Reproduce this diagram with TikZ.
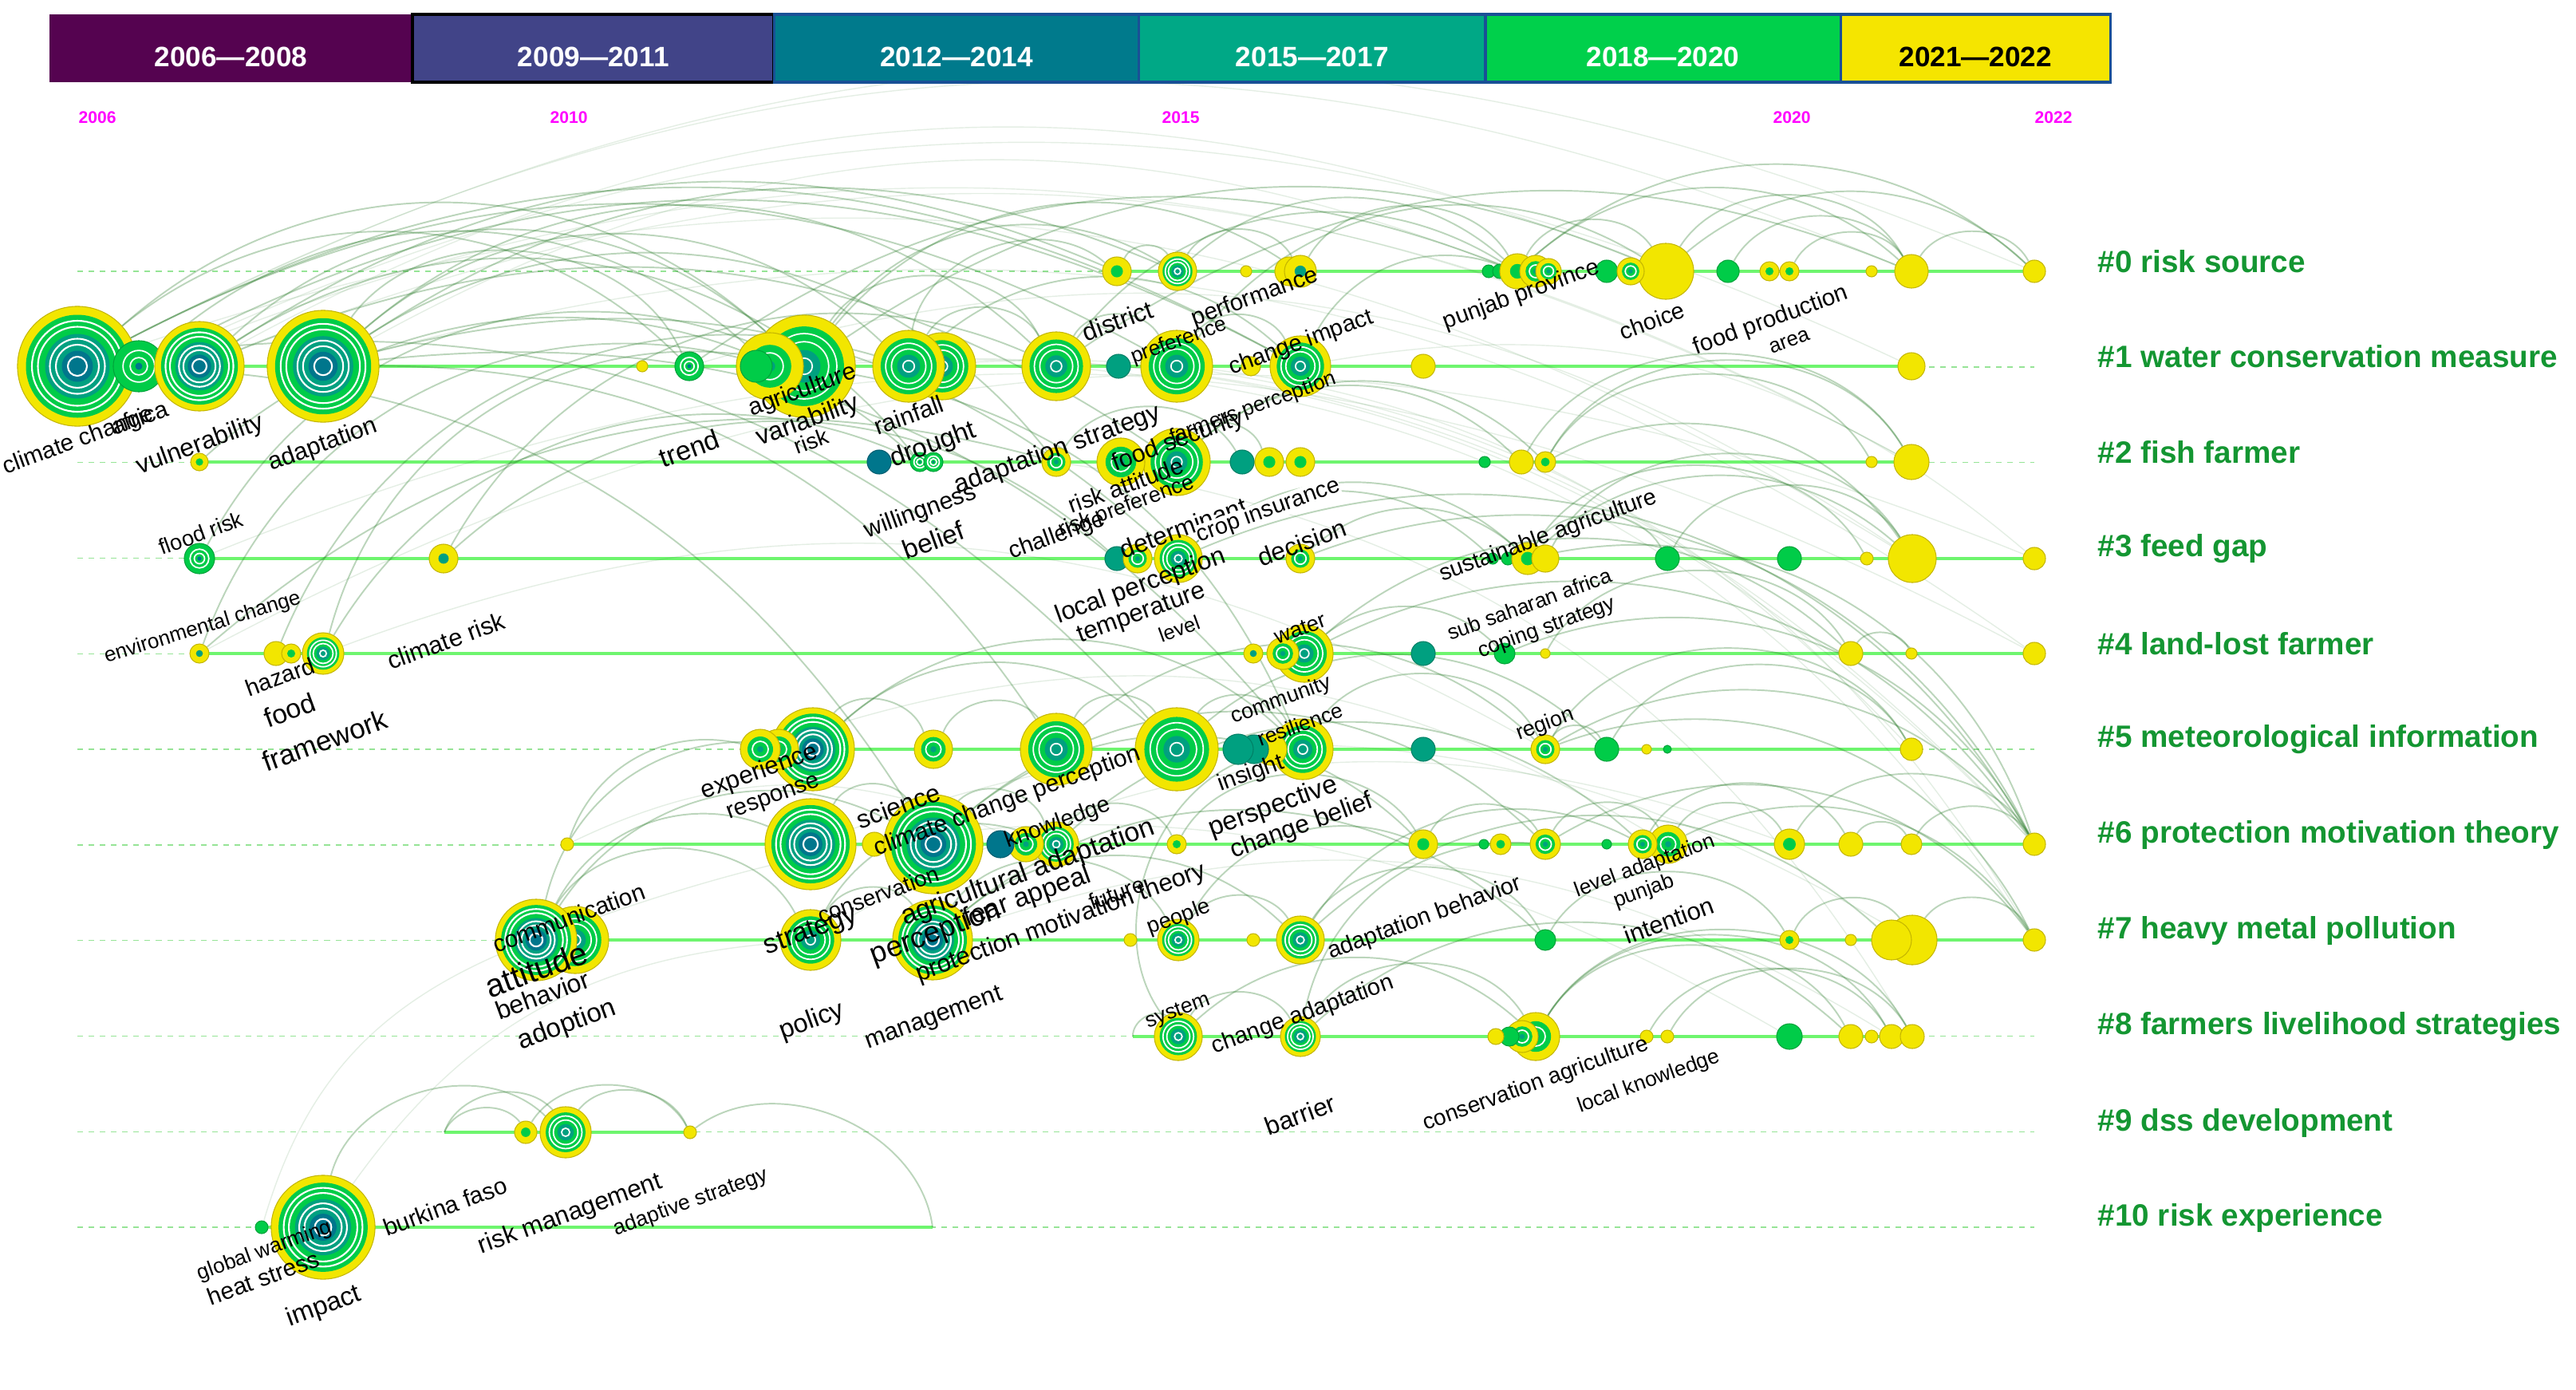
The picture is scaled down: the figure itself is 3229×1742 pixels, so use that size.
\documentclass[tikz,border=0pt]{standalone}
\usepackage{fontspec}
\setmainfont{Liberation Sans}
\usetikzlibrary{positioning}
\pgfdeclarelayer{bg}
\pgfsetlayers{bg,main}

\definecolor{kwyel}{RGB}{242,230,0}
\definecolor{kwedge}{RGB}{196,182,0}
\definecolor{kwgrn}{RGB}{0,204,72}
\definecolor{kwtea}{RGB}{0,160,128}
\definecolor{kwblu}{RGB}{0,118,140}
\definecolor{rowgrn}{RGB}{110,245,110}
\definecolor{dashgrn}{RGB}{150,228,150}
\definecolor{arcgrn}{RGB}{45,125,45}
\definecolor{clgrn}{RGB}{20,150,50}
\definecolor{yrmag}{RGB}{255,0,255}
\definecolor{barblu}{RGB}{25,80,150}
\definecolor{pA}{RGB}{85,3,80}
\definecolor{pB}{RGB}{65,68,136}
\definecolor{pC}{RGB}{0,122,140}
\definecolor{pD}{RGB}{0,168,134}
\definecolor{pE}{RGB}{0,208,75}
\definecolor{pF}{RGB}{245,229,0}

\tikzset{
  kw/.style={circle, inner sep=0pt, minimum size=#1*0.02cm, fill=kwyel, draw=kwedge, line width=0.3pt},
  kwY/.style={kw=#1},
  kwG/.style={kw=#1, fill=kwgrn, draw=kwgrn!80!black},
  kwT/.style={kw=#1, fill=kwtea, draw=kwtea!80!black},
  kwTb/.style={kw=#1, fill=kwblu, draw=kwblu!80!black},
  kwD/.style={kw=#1, path picture={
      \fill[kwgrn] (path picture bounding box.center) circle [radius=0.42*#1*0.01cm];}},
  kwDt/.style={kw=#1, path picture={
      \fill[kwtea] (path picture bounding box.center) circle [radius=0.36*#1*0.01cm];}},
  kwC/.style={kw=#1, path picture={
      \fill[kwgrn] (path picture bounding box.center) circle [radius=0.64*#1*0.01cm];
      \draw[white, line width=0.5pt] (path picture bounding box.center) circle [radius=0.40*#1*0.01cm];
      \fill[kwtea] (path picture bounding box.center) circle [radius=0.16*#1*0.01cm];}},
  kwB/.style={kw=#1, path picture={
      \fill[kwgrn] (path picture bounding box.center) circle [radius=0.78*#1*0.01cm];
      \fill[kwtea] (path picture bounding box.center) circle [radius=0.32*#1*0.01cm];
      \foreach \f in {0.64,0.48,0.16}
        \draw[white, line width=0.5pt] (path picture bounding box.center) circle [radius=\f*#1*0.01cm];}},
  kwA/.style={kw=#1, path picture={
      \fill[kwgrn] (path picture bounding box.center) circle [radius=0.86*#1*0.01cm];
      \fill[kwtea] (path picture bounding box.center) circle [radius=0.54*#1*0.01cm];
      \fill[kwblu] (path picture bounding box.center) circle [radius=0.26*#1*0.01cm];
      \foreach \f in {0.76,0.66,0.46,0.36,0.16}
        \draw[white, line width=0.6pt] (path picture bounding box.center) circle [radius=\f*#1*0.01cm];}},
  kwGr/.style={kw=#1, fill=kwgrn, draw=kwgrn!80!black, path picture={
      \foreach \f in {0.62,0.34}
        \draw[white, line width=0.5pt] (path picture bounding box.center) circle [radius=\f*#1*0.01cm];
      \fill[kwblu] (path picture bounding box.center) circle [radius=0.14*#1*0.01cm];}},
  rowln/.style={draw=rowgrn, line width=1.1pt},
  dashln/.style={draw=dashgrn, line width=0.4pt, dash pattern=on 2pt off 2pt},
  lnk/.style={draw=arcgrn, draw opacity=0.32, line width=0.55pt},
  lnkf/.style={draw=arcgrn, draw opacity=0.13, line width=0.4pt},
  lbl/.style={rotate=20, inner sep=0pt, font=\fontsize{#1}{#1}\selectfont},
  lbl/.default=8.5,
  clab/.style={anchor=west, text=clgrn, inner sep=0pt, font=\fontsize{11}{11}\selectfont\bfseries},
  yrbox/.style={minimum height=0.85cm, inner sep=0pt, outer sep=0pt, text height=12.9pt, text depth=0pt,
    text=white, font=\fontsize{10}{10}\selectfont\bfseries},
  yrlbl/.style={anchor=west, inner sep=0pt, text=yrmag, font=\fontsize{6}{6}\selectfont\bfseries}
}

\begin{document}
\begin{tikzpicture}[x=0.01cm, y=-0.01cm]
\useasboundingbox (0,0) rectangle (3229,1742);

% period bar
\node[yrbox, fill=pA, minimum width=4.55cm] (p1) at (289.5,60.5) {2006—2008};
\node[yrbox, fill=pB, draw=black, line width=1.2pt, minimum width=4.53cm, right=0pt of p1] (p2) {2009—2011};
\node[yrbox, fill=pC, draw=barblu, line width=0.9pt, minimum width=4.57cm, right=0pt of p2] (p3) {2012—2014};
\node[yrbox, fill=pD, draw=barblu, line width=0.9pt, minimum width=4.34cm, right=0pt of p3] (p4) {2015—2017};
\node[yrbox, fill=pE, draw=barblu, line width=0.9pt, minimum width=4.45cm, right=0pt of p4] (p5) {2018—2020};
\node[yrbox, fill=pF, draw=barblu, line width=0.9pt, minimum width=3.38cm, right=0pt of p5, text=black] (p6) {2021—2022};

\node[yrlbl] (y2006) at (98,147) {2006};
\node[yrlbl] (y2010) at (689,147) {2010};
\node[yrlbl] (y2015) at (1456,147) {2015};
\node[yrlbl] (y2020) at (2222,147) {2020};
\node[yrlbl] (y2022) at (2550,147) {2022};

% cluster names
\node[clab] (c0) at (2629,328) {\#0 risk source};
\node[clab] (c1) at (2629,447) {\#1 water conservation measure};
\node[clab] (c2) at (2629,567) {\#2 fish farmer};
\node[clab] (c3) at (2629,688) {\#3 feed gap};
\node[clab] (c4) at (2629,807) {\#4 land-lost farmer};
\node[clab] (c5) at (2629,927) {\#5 meteorological information};
\node[clab] (c6) at (2629,1046) {\#6 protection motivation theory};
\node[clab] (c7) at (2629,1166) {\#7 heavy metal pollution};
\node[clab] (c8) at (2629,1287) {\#8 farmers livelihood strategies};
\node[clab] (c9) at (2629,1407) {\#9 dss development};
\node[clab] (c10) at (2629,1526) {\#10 risk experience};

% row 0
\node[kwD=18] (a0) at (1400,340) {};
\node[kwB=24] (b0) at (1476,340) {};
\node[kwY=7] (c0n) at (1562,340) {};
\node[kwY=18] (d0a) at (1616,340) {};
\node[kwDt=20] (d0) at (1630,340) {};
\node[kwG=8] (e0a) at (1866,340) {};
\node[kwG=9] (e0b) at (1880,340) {};
\node[kwD=22] (e0c) at (1902,340) {};
\node[kwC=20] (e0d) at (1925,340) {};
\node[kwC=16] (e0e) at (1941,340) {};
\node[kwG=14] (f0) at (2014,340) {};
\node[kwY=35] (h0) at (2088,340) {};
\node[kwC=17] (g0) at (2044,340) {};
\node[kwG=14] (i0) at (2166,340) {};
\node[kwD=12] (j0) at (2218,340) {};
\node[kwD=12] (k0) at (2243,340) {};
\node[kwY=7] (l0) at (2346,340) {};
\node[kwY=21] (m0) at (2396,340) {};
\node[kwY=14] (n0) at (2550,340) {};

% row 1
\node[kwA=75] (cc) at (97,459) {};
\node[kwGr=32] (afr) at (174,459) {};
\node[kwA=56] (vul) at (250,459) {};
\node[kwA=70] (ada) at (405,459) {};
\node[kwY=7] (s1) at (805,459) {};
\node[kwGr=18] (tre) at (864,459) {};
\node[kwB=64] (agr2) at (1008,459) {};
\node[kwC=42] (agr1) at (965,459) {};
\node[kwG=20] (agr0) at (948,459) {};
\node[kwB=42] (rai1) at (1181,459) {};
\node[kwB=45] (rai) at (1139,459) {};
\node[kwB=43] (dis) at (1324,459) {};
\node[kwT=15] (t1) at (1402,459) {};
\node[kwB=45] (pre) at (1475,459) {};
\node[kwY=12] (s2) at (1568,459) {};
\node[kwB=38] (chi) at (1630,459) {};
\node[kwY=15] (s3) at (1784,459) {};
\node[kwY=17] (e1) at (2396,459) {};

% row 2
\node[kwD=11] (v2) at (250,579) {};
\node[kwTb=15] (d2) at (1102,579) {};
\node[kwGr=12] (dr1) at (1153,579) {};
\node[kwGr=12] (dr2) at (1170,579) {};
\node[kwC=18] (as2) at (1324,579) {};
\node[kwB=42] (fs2) at (1475,579) {};
\node[kwC=30] (fs1) at (1405,579) {};
\node[kwT=15] (t2) at (1557,579) {};
\node[kwD=18] (y2a) at (1591,579) {};
\node[kwD=18] (y2b) at (1630,579) {};
\node[kwG=7] (g2) at (1861,579) {};
\node[kwY=15] (y2c) at (1907,579) {};
\node[kwD=13] (y2d) at (1937,579) {};
\node[kwY=7] (y2e) at (2346,579) {};
\node[kwY=22] (y2f) at (2396,579) {};

% row 3
\node[kwGr=19] (fr) at (250,700) {};
\node[kwDt=18] (cr3) at (556,700) {};
\node[kwT=15] (t3) at (1400,700) {};
\node[kwC=18] (y3a) at (1426,700) {};
\node[kwB=30] (lp) at (1477,700) {};
\node[kwC=18] (de) at (1630,700) {};
\node[kwG=7] (g3a) at (1871,700) {};
\node[kwG=8] (g3b) at (1890,700) {};
\node[kwD=20] (y3b) at (1915,700) {};
\node[kwY=17] (y3c) at (1937,700) {};
\node[kwG=15] (g3c) at (2090,700) {};
\node[kwG=15] (g3d) at (2243,700) {};
\node[kwY=8] (y3d) at (2340,700) {};
\node[kwY=30] (y3e) at (2397,700) {};
\node[kwY=14] (y3f) at (2550,700) {};

% row 4
\node[kwDt=12] (ec) at (250,819) {};
\node[kwY=15] (hz1) at (346,819) {};
\node[kwD=12] (hz2) at (365,819) {};
\node[kwB=26] (cri) at (405,819) {};
\node[kwB=36] (wa) at (1635,819) {};
\node[kwC=20] (wa2) at (1608,819) {};
\node[kwDt=12] (wa1) at (1571,819) {};
\node[kwT=15] (t4) at (1784,819) {};
\node[kwG=13] (g4) at (1886,819) {};
\node[kwY=6] (y4a) at (1937,819) {};
\node[kwY=15] (y4b) at (2320,819) {};
\node[kwY=7] (y4c) at (2396,819) {};
\node[kwY=14] (y4d) at (2550,819) {};

% row 5
\node[kwA=52] (ex3) at (1019,939) {};
\node[kwC=25] (ex2) at (976,939) {};
\node[kwC=25] (ex1) at (953,939) {};
\node[kwC=24] (y5a) at (1170,939) {};
\node[kwB=45] (cp5) at (1324,939) {};
\node[kwB=52] (ins) at (1475,939) {};
\node[kwB=38] (res) at (1633,939) {};
\node[kwY=20] (y5b) at (1593,939) {};
\node[kwT=18] (t5b) at (1572,939) {};
\node[kwT=19] (t5a) at (1552,939) {};
\node[kwT=15] (t5c) at (1784,939) {};
\node[kwC=18] (reg) at (1937,939) {};
\node[kwG=15] (g5a) at (2014,939) {};
\node[kwY=6] (y5c) at (2064,939) {};
\node[kwG=5] (g5b) at (2090,939) {};
\node[kwY=14] (y5d) at (2396,939) {};

% row 6
\node[kwY=8] (y6a) at (711,1058) {};
\node[kwA=57] (con) at (1016,1058) {};
\node[kwY=15] (y6b) at (1096,1058) {};
\node[kwA=62] (aa) at (1170,1058) {};
\node[kwB=28] (kn2) at (1324,1058) {};
\node[kwC=22] (kn1) at (1286,1058) {};
\node[kwTb=17] (t6) at (1254,1058) {};
\node[kwD=12] (y6c) at (1475,1058) {};
\node[kwD=18] (y6d) at (1784,1058) {};
\node[kwG=6] (g6a) at (1860,1058) {};
\node[kwD=13] (y6e) at (1881,1058) {};
\node[kwC=19] (y6f) at (1937,1058) {};
\node[kwG=6] (g6b) at (2014,1058) {};
\node[kwC=24] (la2) at (2091,1058) {};
\node[kwC=18] (la1) at (2059,1058) {};
\node[kwD=19] (y6g) at (2243,1058) {};
\node[kwY=15] (y6h) at (2320,1058) {};
\node[kwY=13] (y6i) at (2396,1058) {};
\node[kwY=14] (y6j) at (2550,1058) {};

% row 7
\node[kwB=42] (att2) at (721,1178) {};
\node[kwA=51] (att) at (672,1178) {};
\node[kwB=38] (str) at (1016,1178) {};
\node[kwA=50] (per) at (1169,1178) {};
\node[kwY=8] (y7a) at (1417,1178) {};
\node[kwB=26] (peo) at (1477,1178) {};
\node[kwY=8] (y7b) at (1571,1178) {};
\node[kwB=30] (ab) at (1630,1178) {};
\node[kwG=13] (g7) at (1937,1178) {};
\node[kwD=12] (y7c) at (2243,1178) {};
\node[kwY=7] (y7d) at (2320,1178) {};
\node[kwY=31] (y7f) at (2397,1178) {};
\node[kwY=25] (y7e) at (2371,1178) {};
\node[kwY=14] (y7g) at (2550,1178) {};

% row 8
\coordinate (s8) at (1420,1299);
\node[kwB=30] (sys) at (1477,1299) {};
\node[kwB=25] (ca) at (1630,1299) {};
\node[kwC=30] (y8c) at (1925,1299) {};
\node[kwC=20] (y8b) at (1908,1299) {};
\node[kwG=12] (g8a) at (1892,1299) {};
\node[kwY=10] (y8a) at (1875,1299) {};
\node[kwY=8] (y8d) at (2064,1299) {};
\node[kwY=8] (y8e) at (2090,1299) {};
\node[kwG=16] (g8) at (2243,1299) {};
\node[kwY=15] (y8f) at (2320,1299) {};
\node[kwY=8] (y8g) at (2346,1299) {};
\node[kwY=15] (y8h) at (2371,1299) {};
\node[kwY=15] (y8i) at (2397,1299) {};

% row 9
\coordinate (s9) at (557,1419);
\node[kwD=14] (y9a) at (659,1419) {};
\node[kwB=32] (rm) at (709,1419) {};
\node[kwY=8] (y9b) at (865,1419) {};

% row 10
\node[kwG=8] (g10) at (328,1538) {};
\node[kwA=65] (imp) at (405,1538) {};
\coordinate (e10) at (1169,1538);

\begin{pgfonlayer}{bg}
  \foreach \k in {0,...,10}
    \draw[dashln] (97,{340+119.8*\k}) -- (2550,{340+119.8*\k});
  \draw[rowln] (a0.center) -- (n0.center);
  \draw[rowln] (cc.center) -- (e1.center);
  \draw[rowln] (v2.center) -- (y2f.center);
  \draw[rowln] (fr.center) -- (y3f.center);
  \draw[rowln] (ec.center) -- (y4d.center);
  \draw[rowln] (ex1.center) -- (y5d.center);
  \draw[rowln] (y6a.center) -- (y6j.center);
  \draw[rowln] (att.center) -- (y7g.center);
  \draw[rowln] (s8) -- (y8i.center);
  \draw[rowln] (s9) -- (y9b.center);
  \draw[rowln] (g10.center) -- (e10);

  % co-occurrence links
  \foreach \a/\b in {ada/tre, rai/dis, agr2/dis, dis/pre, pre/chi, b0/d0, d0/e0c, e0c/h0, h0/m0, m0/n0,
      i0/m0, k0/m0, y2d/y2e, y2d/y2f, y2c/y2f, y3b/y3d, y3c/y3e, g3c/y3e, y4b/y4c, y4a/y4b,
      ex3/y5a, y5a/cp5, cp5/ins, ins/res, res/reg, reg/g5a, reg/y5d, con/aa, aa/kn2, kn2/y6c,
      y6c/y6d, y6f/la2, la2/y6g, y6g/y6j, la1/y6h, y6d/y6f, att/str, str/per, per/peo, peo/ab,
      ab/g7, g7/y7c, y7c/y7f, y7f/y7g, sys/ca, ca/y8c, y8c/y8f, y8c/y8h, y8c/y8i, y8d/y8h,
      y8e/y8i, s9/y9a, s9/rm, y9a/y9b, rm/y9b, imp/rm, y9b/e10, rai/a0, as2/t2, fs2/y2a,
      sys/res, y3b/g3c, g5a/y5d, y6h/y6i, y6i/y6j, a0/b0, s8/sys}
    \draw[lnk] (\a) to[bend left=60] (\b);
  \foreach \a/\b in {cc/agr2, cc/tre, afr/agr1, vul/agr2, ada/rai, ada/dis, ada/as2, vul/dr1,
      v2/dr1, cr3/t3, cri/agr2, hz1/rai, ec/agr1, fr/agr2, y6a/ex1, att/ex3, att/con, att/aa,
      str/kn2, agr2/d0, agr2/b0, rai/chi, dis/e0c, pre/h0, chi/e0c, fs2/y2c, lp/g3a, lp/y3b,
      de/y3b, wa/g4, wa/y4b, ex3/ins, ex3/res, cp5/reg, ins/g5a, aa/y6d, aa/y6f, kn2/la1,
      per/ab, per/g7, ab/y7e, sys/y8c, ca/y8f, lp/y6j, de/y6j, reg/y6j, wa/y6j, g4/y6j,
      y3b/y6j, la2/y7g, y6f/y7g, reg/y7g, ca/y6f, ab/la1, peo/y6d, e0c/m0, e0c/n0, h0/n0,
      b0/e0c, y3b/y3e, cri/dr1, cr3/dis, fs2/y2d, y2d/y3e}
    \draw[lnk] (\a) to[bend left=42] (\b);
  \foreach \a/\b in {cc/pre, cc/chi, cc/ins, cc/aa, vul/fs2, ada/cp5, ada/res, ada/lp,
      agr2/h0, agr2/res, tre/e0c, dis/m0, ec/as2, afr/chi, ada/b0, vul/a0}
    \draw[lnk] (\a) to[bend left=28] (\b);
  \foreach \a/\b in {cc/m0, vul/h0, ada/e0c, afr/y2f, tre/y3e, agr1/y6j, rai/y5d, dis/y7g,
      as2/y8i, fr/y4d, ec/y3f, cri/reg, ex1/la2, con/y7f, att/g8, per/y8h, str/y6g, imp/str,
      g10/att, y6a/kn1, cc/y3e, vul/y2f, ada/y4d, cc/n0, afr/e1, agr2/y6j, pre/y7g, chi/y3f}
    \draw[lnkf] (\a) to[bend left=25] (\b);
\end{pgfonlayer}

% keyword labels
\node[lbl=8.4] (lcc) at (98,553) {climate change};
\node[lbl=8.5] (lafr) at (175,523) {africa};
\node[lbl=9] (lvul) at (251,558) {vulnerability};
\node[lbl=8.7] (lada) at (405,558) {adaptation};
\node[lbl=9.7] (ltre) at (864,562) {trend};
\node[lbl=8.6] (lagr) at (1006,490) {agriculture};
\node[lbl=9.2] (lvar) at (1013,528) {variability};
\node[lbl=8] (lrisk) at (1017,553) {risk};
\node[lbl=9] (ldis) at (1401,402) {district};
\node[lbl=8.4] (lperf) at (1573,373) {performance};
\node[lbl=8.3] (lpun) at (1907,370) {punjab province};
\node[lbl=7.5] (lpre) at (1478,428) {preference};
\node[lbl=8.3] (lchi) at (1631,430) {change impact};
\node[lbl=8.7] (lrai) at (1139,520) {rainfall};
\node[lbl=7.5] (lfpc) at (1571,512) {farmers perception};
\node[lbl=9.4] (ldro) at (1170,558) {drought};
\node[lbl=9.1] (las) at (1326,564) {adaptation strategy};
\node[lbl=8.7] (lfs) at (1477,553) {food security};
\node[lbl=8.4] (lra) at (1411,608) {risk attitude};
\node[lbl=8.6] (lwil) at (1154,642) {willingness};
\node[lbl=7.7] (lrp) at (1412,635) {risk preference};
\node[lbl=9.5] (lbel) at (1170,677) {belief};
\node[lbl=8.4] (lcha) at (1325,672) {challenge};
\node[lbl=9, anchor=west] (ldet) at (1404,690) {determinant};
\node[lbl=8.2, fill=white] (lcrop) at (1590,640) {crop insurance};
\node[lbl=9] (ldec) at (1632,680) {decision};
\node[lbl=8.2] (lsa) at (1941,672) {sustainable agriculture};
\node[lbl=9.1] (llp) at (1430,735) {local perception};
\node[lbl=8.9] (ltem) at (1431,770) {temperature};
\node[lbl=7.3] (llev) at (1478,788) {level};
\node[lbl=7.4, rotate=-3] (lenv) at (254,787) {environmental change};
\node[lbl=7.8] (lfr) at (252,668) {flood risk};
\node[lbl=8.3] (lhz) at (351,848) {hazard};
\node[lbl=8.8] (lcr) at (559,803) {climate risk};
\node[lbl=9.6] (lfood) at (363,890) {food};
\node[lbl=10] (lfw) at (407,928) {framework};
\node[lbl=7.5] (lssa) at (1917,757) {sub saharan africa};
\node[lbl=7.6] (lcs) at (1939,787) {coping strategy};
\node[lbl=7.8] (lwat) at (1630,788) {water};
\node[lbl=7.7] (lcom) at (1606,878) {community};
\node[lbl=7.5] (lres) at (1630,908) {resilience};
\node[lbl=8.9] (lexp) at (952,968) {experience};
\node[lbl=8.4] (lrsp) at (970,1001) {response};
\node[lbl=8.4] (lins) at (1568,970) {insight};
\node[lbl=7.7] (lreg) at (1937,908) {region};
\node[lbl=9.1] (lsci) at (1126,1010) {science};
\node[lbl=8.6] (lccp) at (1263,1005) {climate change perception};
\node[lbl=9.4] (lpsp) at (1596,1012) {perspective};
\node[lbl=9] (lcb) at (1632,1036) {change belief};
\node[lbl=8.2] (lkn) at (1326,1032) {knowledge};
\node[lbl=8] (lcon) at (1101,1121) {conservation};
\node[lbl=9.7] (laa) at (1289,1094) {agricultural adaptation};
\node[lbl=9.5] (lfa) at (1288,1125) {fear appeal};
\node[lbl=8] (lfut) at (1400,1119) {future};
\node[lbl=8.9] (lpmt) at (1330,1157) {protection motivation theory};
\node[lbl=10.4] (lper) at (1173,1170) {perception};
\node[lbl=9.8] (lstr) at (1017,1168) {strategy};
\node[lbl=7.8] (lpeo) at (1478,1150) {people};
\node[lbl=8.3] (lab) at (1786,1151) {adaptation behavior};
\node[lbl=7.5] (lla) at (2062,1086) {level adaptation};
\node[lbl=7.5] (lpj) at (2061,1118) {punjab};
\node[lbl=8.8] (lint) at (2092,1153) {intention};
\node[lbl=8.5] (lcomm) at (713,1150) {communication};
\node[lbl=11.5] (latt) at (672,1215) {attitude};
\node[lbl=9.1] (lbeh) at (680,1247) {behavior};
\node[lbl=9.5] (ladp) at (711,1285) {adoption};
\node[lbl=9.3] (lpol) at (1018,1280) {policy};
\node[lbl=8.8] (lman) at (1171,1277) {management};
\node[lbl=7.6] (lsys) at (1477,1268) {system};
\node[lbl=8.3] (lca) at (1633,1272) {change adaptation};
\node[lbl=9] (lbar) at (1630,1397) {barrier};
\node[lbl=8] (lcag) at (1925,1359) {conservation agriculture};
\node[lbl=7.5] (llk) at (2067,1356) {local knowledge};
\node[lbl=8.3] (lcho) at (2071,402) {choice};
\node[lbl=8.4] (lfpr) at (2220,402) {food production};
\node[lbl=7.4] (larea) at (2243,428) {area};
\node[lbl=8.5] (lbf) at (558,1512) {burkina faso};
\node[lbl=9] (lrm) at (715,1522) {risk management};
\node[lbl=7.6] (lads) at (866,1507) {adaptive strategy};
\node[lbl=7.5] (lgw) at (332,1568) {global warming};
\node[lbl=8.5] (lhs) at (330,1601) {heat stress};
\node[lbl=9.3] (limp) at (406,1638) {impact};
\end{tikzpicture}
\end{document}
